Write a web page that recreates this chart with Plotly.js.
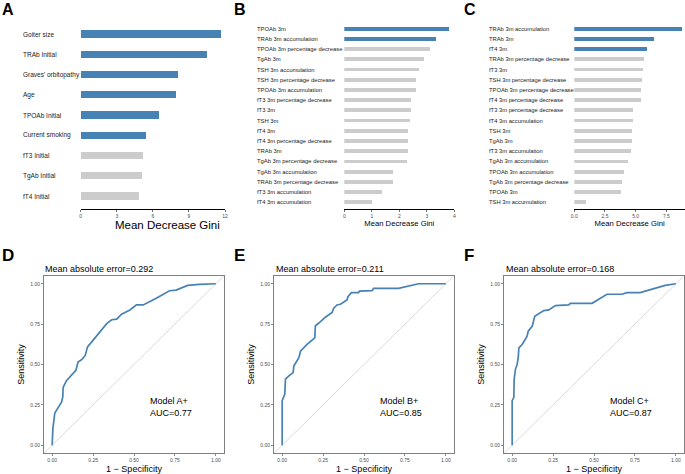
<!DOCTYPE html>
<html>
<head>
<meta charset="utf-8">
<script src="https://cdn.plot.ly/plotly-3.0.1.min.js"></script>
<style>html,body{margin:0;padding:0;background:#fff;}#chart{width:685px;height:474px;}</style>
</head>
<body>
<div id="chart"></div>
<script>
// ---------- Data ----------
const labelsA = ["Goiter size","TRAb Initial","Graves' orbitopathy","Age","TPOAb Initial","Current smoking","fT3 Initial","TgAb Initial","fT4 Initial"];
const giniA = [11.7,10.5,8.1,7.9,6.5,5.47,5.2,5.1,4.87];
const selectedA = 6;

const labelsB = ["TPOAb 3m","TRAb 3m accumulation","TPOAb 3m percentage decrease","TgAb 3m","TSH 3m accumulation","TSH 3m percentage decrease","TPOAb 3m accumulation","fT3 3m percentage decrease","fT3 3m","TSH 3m","fT4 3m","fT4 3m percentage decrease","TRAb 3m","TgAb 3m percentage decrease","TgAb 3m accumulation","TRAb 3m percentage decrease","fT3 3m accumulation","fT4 3m accumulation"];
const giniB = [3.79,3.32,3.13,2.91,2.72,2.62,2.61,2.41,2.41,2.39,2.32,2.32,2.32,2.29,1.78,1.78,1.36,1.0];
const selectedB = 2;

const labelsC = ["TRAb 3m accumulation","TRAb 3m","fT4 3m","TRAb 3m percentage decrease","fT3 3m","TSH 3m percentage decrease","TPOAb 3m percentage decrease","fT4 3m percentage decrease","fT3 3m percentage decrease","fT4 3m accumulation","TSH 3m","TgAb 3m","fT3 3m accumulation","TgAb 3m accumulation","TPOAb 3m accumulation","TgAb 3m percentage decrease","TPOAb 3m","TSH 3m accumulation"];
const giniC = [8.75,6.49,5.9,5.71,5.57,5.49,5.43,5.41,4.78,4.76,4.67,4.67,4.59,4.40,4.02,3.91,3.78,0.95];
const selectedC = 3;

const ticksA = [0,3,6,9,12];
const ticksB = [0,1,2,3,4];
const ticksC = [0,2.5,5,7.5];
const ticksCText = ["0.0","2.5","5.0","7.5"];
const rocTicks = [0,0.25,0.5,0.75,1];
const rocTickText = ["0.00","0.25","0.50","0.75","1.00"];

const fprD = [0,0.004,0.016,0.04,0.057,0.065,0.067,0.087,0.117,0.145,0.158,0.182,0.202,0.216,0.253,0.293,0.333,0.364,0.394,0.424,0.475,0.515,0.556,0.636,0.717,0.758,0.828,0.899,1];
const tprD = [0,0.10,0.20,0.235,0.266,0.30,0.358,0.40,0.43,0.464,0.515,0.532,0.556,0.609,0.654,0.706,0.753,0.777,0.781,0.812,0.838,0.869,0.869,0.91,0.957,0.961,0.99,0.996,1];

const fprE = [0,0,0.016,0.02,0.041,0.067,0.071,0.102,0.112,0.152,0.199,0.203,0.224,0.264,0.305,0.315,0.335,0.356,0.396,0.402,0.423,0.467,0.472,0.549,0.559,0.711,0.833,1];
const tprE = [0,0.276,0.317,0.409,0.43,0.45,0.49,0.542,0.583,0.624,0.665,0.74,0.757,0.793,0.822,0.849,0.869,0.873,0.9,0.92,0.945,0.945,0.955,0.957,0.971,0.971,1.0,1];

const fprF = [0,0,0.01,0.012,0.02,0.03,0.037,0.041,0.061,0.071,0.091,0.098,0.122,0.138,0.163,0.193,0.224,0.244,0.264,0.345,0.356,0.488,0.579,0.671,0.701,0.782,0.874,0.935,1];
const tprF = [0,0.276,0.297,0.409,0.47,0.50,0.542,0.603,0.624,0.644,0.675,0.706,0.736,0.798,0.814,0.834,0.838,0.849,0.865,0.869,0.879,0.879,0.935,0.935,0.945,0.945,0.971,0.99,1];

const maeD = "0.292", maeE = "0.211", maeF = "0.168";
const modelD = "Model A+", modelE = "Model B+", modelF = "Model C+";
const aucD = "0.77", aucE = "0.85", aucF = "0.87";

// ---------- Style ----------
const W = 685, H = 474;
const FONT = "Liberation Sans, Arial, Helvetica, sans-serif";
const BLUE = "#4682B4", GREY = "#CCCCCC";
const px = v => v / W;
const py = v => 1 - v / H;

function barColors(n, sel) { return Array.from({length: n}, (_, i) => i < sel ? BLUE : GREY); }

const traces = [];
function barTrace(labels, vals, sel, ax, width) {
  return {type: "bar", orientation: "h", x: vals, y: labels, xaxis: "x" + ax, yaxis: "y" + ax,
    marker: {color: barColors(labels.length, sel), line: {width: 0}}, width: width,
    hoverinfo: "x+y", showlegend: false};
}
traces.push(barTrace(labelsA, giniA, selectedA, "", 0.36));
traces.push(barTrace(labelsB, giniB, selectedB, "2", 0.37));
traces.push(barTrace(labelsC, giniC, selectedC, "3", 0.37));
function rocTrace(fpr, tpr, ax) {
  return {type: "scatter", mode: "lines", x: fpr, y: tpr, xaxis: "x" + ax, yaxis: "y" + ax,
    line: {color: BLUE, width: 1.7}, showlegend: false};
}
traces.push(rocTrace(fprD, tprD, "4"));
traces.push(rocTrace(fprE, tprE, "5"));
traces.push(rocTrace(fprF, tprF, "6"));

function barX(dom, range, tickvals, ticktext, yName, titleSize, withTitle) {
  const ax = {domain: dom, range: range, anchor: yName, showgrid: false, zeroline: false,
    showline: true, linecolor: "#000", linewidth: 1, ticks: "outside", ticklen: 2, tickwidth: 0.7, tickcolor: "#333",
    tickvals: tickvals, ticktext: ticktext, tickfont: {size: 5, color: "#4d4d4d", family: FONT}, fixedrange: true};
  if (withTitle) ax.title = {text: "Mean Decrease Gini", font: {size: titleSize, color: "#000", family: FONT}, standoff: 2};
  return ax;
}
function barY(dom, labels, top, bottom, xName) {
  return {domain: dom, type: "category", categoryorder: "array", categoryarray: labels,
    range: [labels.length - 1 + bottom, -top], anchor: xName, showgrid: false, zeroline: false,
    showline: false, showticklabels: false, ticks: "", fixedrange: true};
}
function rocX(dom, yName) {
  return {domain: dom, range: [-0.05, 1.05], anchor: yName, showgrid: false, zeroline: false,
    showline: true, mirror: true, linecolor: "#808080", linewidth: 1,
    ticks: "outside", ticklen: 2, tickwidth: 0.7, tickcolor: "#555",
    tickvals: rocTicks, ticktext: rocTickText, tickfont: {size: 5, color: "#4d4d4d", family: FONT},
    title: {text: "1 \u2212 Specificity", font: {size: 9, color: "#000", family: FONT}, standoff: 3}, fixedrange: true};
}
function rocY(dom, xName) {
  return {domain: dom, range: [-0.05, 1.05], anchor: xName, showgrid: false, zeroline: false,
    showline: true, mirror: true, linecolor: "#808080", linewidth: 1,
    ticks: "outside", ticklen: 2, tickwidth: 0.7, tickcolor: "#555",
    tickvals: rocTicks, ticktext: rocTickText, tickfont: {size: 5, color: "#4d4d4d", family: FONT},
    title: {text: "Sensitivity", font: {size: 9, color: "#000", family: FONT}, standoff: 4}, fixedrange: true};
}

const rocYdom = [py(453.3), py(275.7)];
const layout = {
  width: W, height: H, margin: {l: 0, r: 0, t: 0, b: 0, pad: 0},
  paper_bgcolor: "#fff", plot_bgcolor: "#fff", showlegend: false, bargap: 0,
  font: {family: FONT, color: "#000"},
  xaxis: barX([px(80.7), px(225)], [0, 12], ticksA, ticksA.map(String), "y", 12, false),
  yaxis: barY([py(209), py(22)], labelsA, 0.593, 0.642, "x"),
  xaxis2: barX([px(344.3), px(454.3)], [0, 4], ticksB, ticksB.map(String), "y2", 7.7, true),
  yaxis2: barY([py(209), py(20)], labelsB, 0.85, 0.656, "x2"),
  xaxis3: barX([px(574.3), 1], [0, 9.02], ticksC, ticksCText, "y3", 7.7, true),
  yaxis3: barY([py(209), py(20)], labelsC, 0.85, 0.656, "x3"),
  xaxis4: rocX([px(44), px(224)], "y4"), yaxis4: rocY(rocYdom, "x4"),
  xaxis5: rocX([px(274), px(454)], "y5"), yaxis5: rocY(rocYdom, "x5"),
  xaxis6: rocX([px(504), px(684)], "y6"), yaxis6: rocY(rocYdom, "x6"),
  shapes: ["4","5","6"].map(a => ({type: "line", xref: "x" + a + " domain", yref: "y" + a + " domain",
    x0: 0, y0: 0, x1: 1, y1: 1, line: {color: "#d0d0d0", width: 0.8}, layer: "below"})),
  annotations: []
};

// Panel A axis title (placed as in the reference, right of the panel centre)
layout.annotations.push({xref: "paper", yref: "paper", x: px(167.5), y: py(225), xanchor: "center", yanchor: "middle",
  text: "Mean Decrease Gini", showarrow: false, font: {size: 11.5, color: "#000", family: FONT}});

function addLabels(labels, ax, xLeft, size) {
  labels.forEach(l => layout.annotations.push({xref: "paper", yref: "y" + ax, x: px(xLeft), y: l,
    xanchor: "left", yanchor: "middle", text: l, showarrow: false, font: {size: size, color: "#1a1a1a", family: FONT}}));
}
addLabels(labelsA, "", 21.3, 6.5);
addLabels(labelsB, "2", 255, 5.85);
addLabels(labelsC, "3", 486.5, 5.8);

const letters = [["A", 0, 10, 16], ["B", 231.5, 10, 16], ["C", 461.5, 10, 16],
                 ["D", 0, 255, 17], ["E", 232.5, 255, 17], ["F", 462, 255, 17]];
letters.forEach(([t, x, y, s]) => layout.annotations.push({xref: "paper", yref: "paper", x: px(x), y: py(y),
  xanchor: "left", yanchor: "middle", text: "<b>" + t + "</b>", showarrow: false, font: {size: s, color: "#000", family: FONT}}));

[[maeD, 43.3], [maeE, 274.3], [maeF, 504.3]].forEach(([m, x]) => layout.annotations.push({xref: "paper", yref: "paper",
  x: px(x), y: py(269.3), xanchor: "left", yanchor: "middle", text: "Mean absolute error=" + m, showarrow: false,
  font: {size: 9, color: "#000", family: FONT}}));

[[modelD, aucD, "4"], [modelE, aucE, "5"], [modelF, aucF, "6"]].forEach(([m, a, ax]) => layout.annotations.push({
  xref: "x" + ax, yref: "y" + ax, x: 0.585, y: 0.237, xanchor: "left", yanchor: "middle", align: "left",
  text: m + "<br>AUC=" + a, showarrow: false, font: {size: 9, color: "#000", family: FONT}}));

Plotly.newPlot("chart", traces, layout, {displayModeBar: false, staticPlot: true});
</script>
</body>
</html>
